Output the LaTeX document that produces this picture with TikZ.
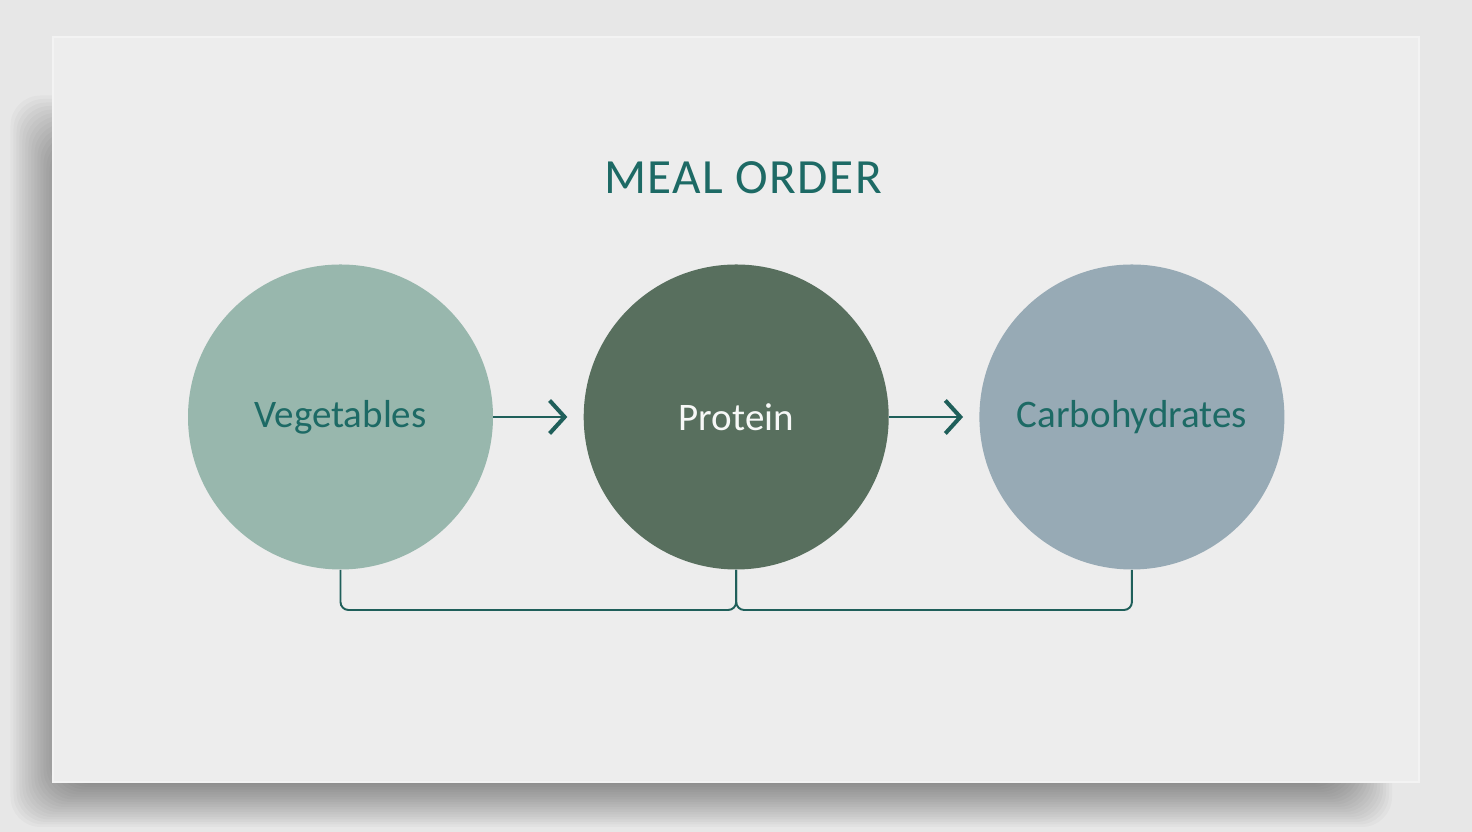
\documentclass[tikz,border=0pt]{standalone}
\usepackage{fontspec}
\setmainfont{Carlito}
\usepackage{xcolor}
\usetikzlibrary{arrows.meta, positioning}

\definecolor{bggray}{HTML}{E7E7E7}
\definecolor{cardgray}{HTML}{EDEDED}
\definecolor{veggreen}{HTML}{98B7AD}
\definecolor{protgreen}{HTML}{586F5E}
\definecolor{carbblue}{HTML}{97AAB5}
\definecolor{tealtext}{HTML}{1D6A65}
\definecolor{lineteal}{HTML}{1F5F5A}

\begin{document}
\begin{tikzpicture}[
  node distance=1.8cm,
  dish/.style={circle, minimum size=6.1cm, inner sep=0pt,
               font=\fontsize{22.2}{25}\selectfont, text=tealtext},
  vegbox/.style={dish, fill=veggreen},
  protbox/.style={dish, fill=protgreen, text=white!95!protgreen},
  carbbox/.style={dish, fill=carbblue},
  arrow/.style={-{Straight Barb[length=3mm, width=6.6mm, line width=2.3pt]},
                line width=1.4pt, draw=lineteal, shorten >=0.32cm},
  link/.style={line width=1.1pt, draw=lineteal, rounded corners=0.16cm}
]
\useasboundingbox (0,0) rectangle (29.44,16.64);
\fill[bggray] (0,0) rectangle (29.44,16.64);
\foreach \k in {1,...,18}
  \fill[black, opacity=0.022, rounded corners=0.6cm]
    (0.15+\k*0.06, 0.05+\k*0.05) rectangle (27.9-\k*0.06, 14.8-\k*0.07);
\fill[cardgray] (1.06,1.0) rectangle (28.38,15.9);
\draw[white!30!cardgray, line width=0.6pt] (1.06,1.0) rectangle (28.38,15.9);

\node[font=\fontsize{28}{32}\selectfont\addfontfeature{LetterSpace=3}, text=tealtext]
  (title) at (14.86,13.08) {MEAL ORDER};
\node[vegbox] (veg) at (6.81,8.3) {Vegetables};
\node[protbox, right=of veg] (prot) {Protein};
\node[carbbox, right=of prot] (carb) {Carbohydrates};
\coordinate (join) at (prot.south |- 0,4.44);

\draw[arrow] (veg) -- (prot);
\draw[arrow] (prot) -- (carb);
\draw[link] (veg.south) |- (join) -- (prot.south);
\draw[link] (carb.south) |- (join) -- (prot.south);
\end{tikzpicture}
\end{document}
